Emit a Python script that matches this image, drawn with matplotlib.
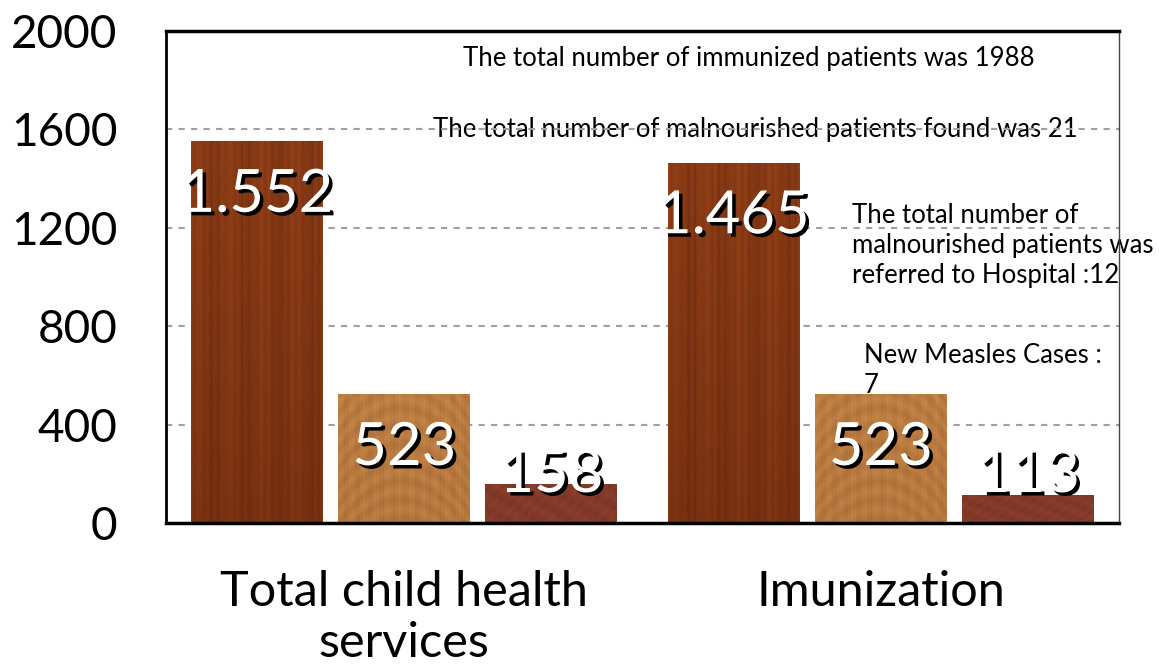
import numpy as np
import matplotlib
matplotlib.use('Agg')
import matplotlib.pyplot as plt
import matplotlib.patheffects as pe

# data
categories = ['Total child health\nservices', 'Imunization']
series_1 = [1552, 1465]
series_2 = [523, 523]
series_3 = [158, 113]
value_labels = [['1.552', '1.465'], ['523', '523'], ['158', '113']]
yticks = [0, 400, 800, 1200, 1600, 2000]
notes = [
    'The total number of immunized patients was 1988',
    'The total number of malnourished patients found was 21',
    'The total number of\nmalnourished patients was\nreferred to Hospital :12',
    'New Measles Cases :\n7',
]

FONT = 'Lato'


def wood_texture(kind, nx=160, ny=300):
    """Deterministic wood-ish texture as an RGB array."""
    x = np.linspace(0, 1, nx)[None, :]
    y = np.linspace(0, 1, ny)[:, None]
    if kind == 0:
        dark, light = np.array([0.30, 0.10, 0.03]), np.array([0.70, 0.32, 0.12])
        t = (0.58 + 0.06 * np.sin(2 * np.pi * 4 * x + 0.5) + 0.05 * np.sin(2 * np.pi * 17 * x + 1.3)
             + 0.05 * np.sin(2 * np.pi * 43 * x + 0.4) + 0.04 * np.sin(2 * np.pi * 89 * x + 2.1)
             + 0.03 * np.sin(2 * np.pi * 137 * x + 0.9))
        t = t * (0.72 + 0.28 * y)
    elif kind == 1:
        dark, light = np.array([0.52, 0.30, 0.12]), np.array([0.86, 0.60, 0.34])
        g = 7 * y + 6 * (x - 0.3) ** 2 + 4 * (x - 0.75) ** 2
        t = (0.62 + 0.07 * np.sin(2 * np.pi * g) + 0.05 * np.sin(2 * np.pi * 11 * x + 0.7)
             + 0.04 * np.sin(2 * np.pi * 37 * x) + 0.03 * np.sin(2 * np.pi * 71 * x + 1.9))
        t = t * (0.9 + 0.1 * y)
    else:
        dark, light = np.array([0.38, 0.15, 0.10]), np.array([0.62, 0.29, 0.21])
        t = (0.55 + 0.07 * np.sin(2 * np.pi * (4 * x + 2 * y)) + 0.05 * np.sin(2 * np.pi * (11 * x - 3 * y) + 1)
             + 0.04 * np.sin(2 * np.pi * 37 * x))
    t = np.clip(t, 0, 1)[..., None]
    return dark + (light - dark) * t


fig = plt.figure(figsize=(11.59, 6.72), dpi=100)
ax = fig.add_axes([0.1432, 0.2217, 0.8223, 0.7321])

xpos = np.arange(len(categories))
width = 0.277
step = 0.309
all_series = [series_1, series_2, series_3]

ax.set_xlim(-0.5, 1.5)
ax.set_ylim(0, 2000)

for i, vals in enumerate(all_series):
    bars = ax.bar(xpos + (i - 1) * step, vals, width, color='none', zorder=2)
    tex = wood_texture(i)
    for j, p in enumerate(bars.patches):
        x0, y0 = p.get_x(), p.get_y()
        w, h = p.get_width(), p.get_height()
        im = ax.imshow(tex, extent=(x0, x0 + w, y0, y0 + h), origin='lower',
                       aspect='auto', zorder=2, interpolation='bilinear')
        im.set_clip_path(p)
        ly = max(h - 218, 195)
        ax.text(x0 + w / 2, ly, value_labels[i][j], ha='center', va='center',
                fontsize=43, color='white', family=FONT, zorder=5,
                path_effects=[pe.withSimplePatchShadow(offset=(2.5, -2.5),
                                                       shadow_rgbFace='black', alpha=1.0)])

ax.set_xlim(-0.5, 1.5)
ax.set_ylim(0, 2000)

# grid
ax.set_yticks(yticks)
ax.yaxis.grid(True, linestyle=(0, (3, 3)), color='#a0a0a0', linewidth=1.5)
ax.set_axisbelow(True)

ax.set_xticks(xpos)
ax.set_xticklabels(categories, fontsize=35, family=FONT, linespacing=1.2)
ax.set_yticklabels([str(v) for v in yticks], fontsize=33, family=FONT)
ax.tick_params(axis='y', length=0, pad=35)
ax.tick_params(axis='x', length=0, pad=34)

for side, lw, col in [('top', 2.5, 'black'), ('left', 2.0, 'black'),
                      ('bottom', 2.5, 'black'), ('right', 1.0, '#444444')]:
    ax.spines[side].set_linewidth(lw)
    ax.spines[side].set_color(col)

# notes
ax.text(0.723, 1890, notes[0], ha='center', va='center', fontsize=18.5, family=FONT, zorder=0.3)
ax.text(0.737, 1598, notes[1], ha='center', va='center', fontsize=18.5, family=FONT, zorder=0.3)
ax.text(0.939, 1130, notes[2], ha='left', va='center', fontsize=18.5, family=FONT,
        linespacing=1.25, zorder=0.3)
ax.text(0.964, 618, notes[3], ha='left', va='center', fontsize=18.5, family=FONT,
        linespacing=1.25, zorder=0.3)

fig.savefig('out.png', dpi=100, facecolor='white')
